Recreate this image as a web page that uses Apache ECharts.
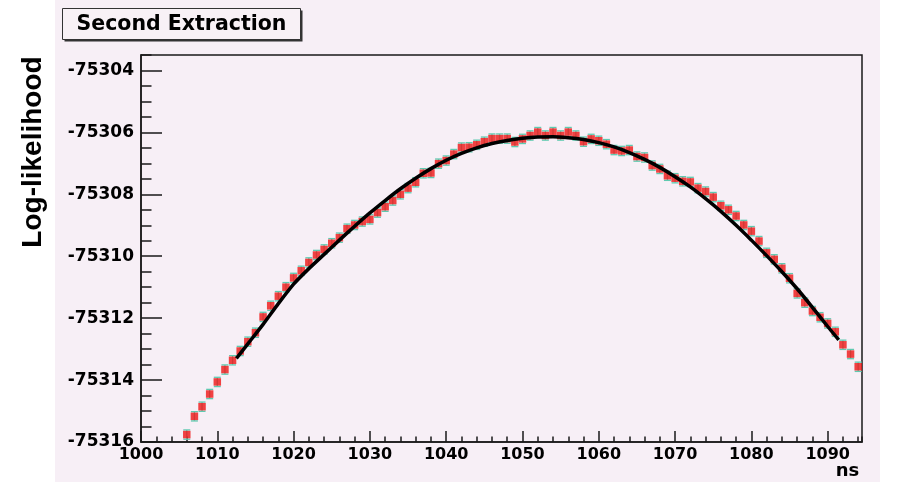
<!DOCTYPE html>
<html>
<head>
<meta charset="utf-8">
<script src="https://cdn.jsdelivr.net/npm/echarts@6/dist/echarts.min.js"></script>
<style>
html,body{margin:0;padding:0;background:#ffffff;}
#c{width:901px;height:485px;}
</style>
</head>
<body>
<div id="c"></div>
<script>
// ---- data ----
const titleText = 'Second Extraction';
const yAxisTitle = 'Log-likelihood';
const xAxisTitle = 'ns';

const xMin = 1000, xMax = 1094.5, xStep = 10, xMinorStep = 2;
const yMin = -75316, yMax = -75303.5, yStep = 2, yMinorStep = 0.5;

const pointX = [1006,1007,1008,1009,1010,1011,1012,1013,1014,1015,1016,1017,1018,1019,1020,1021,1022,1023,1024,1025,
  1026,1027,1028,1029,1030,1031,1032,1033,1034,1035,1036,1037,1038,1039,1040,1041,1042,1043,1044,1045,
  1046,1047,1048,1049,1050,1051,1052,1053,1054,1055,1056,1057,1058,1059,1060,1061,1062,1063,1064,1065,
  1066,1067,1068,1069,1070,1071,1072,1073,1074,1075,1076,1077,1078,1079,1080,1081,1082,1083,1084,1085,
  1086,1087,1088,1089,1090,1091,1092,1093,1094];
const pointY = [-75315.76,-75315.17,-75314.86,-75314.45,-75314.06,-75313.66,-75313.36,-75313.06,-75312.76,-75312.47,
  -75311.96,-75311.60,-75311.29,-75311.00,-75310.70,-75310.47,-75310.20,-75309.96,-75309.78,-75309.58,
  -75309.40,-75309.11,-75308.99,-75308.88,-75308.81,-75308.59,-75308.40,-75308.20,-75308.00,-75307.80,
  -75307.61,-75307.32,-75307.31,-75307.01,-75306.91,-75306.70,-75306.49,-75306.48,-75306.40,-75306.30,
  -75306.20,-75306.20,-75306.20,-75306.31,-75306.21,-75306.10,-75305.99,-75306.10,-75305.99,-75306.10,
  -75305.99,-75306.10,-75306.30,-75306.21,-75306.27,-75306.38,-75306.57,-75306.60,-75306.57,-75306.78,
  -75306.81,-75307.07,-75307.18,-75307.40,-75307.48,-75307.58,-75307.60,-75307.80,-75307.91,-75308.09,
  -75308.37,-75308.50,-75308.70,-75308.99,-75309.19,-75309.51,-75309.89,-75310.10,-75310.39,-75310.71,
  -75311.20,-75311.50,-75311.77,-75311.97,-75312.17,-75312.44,-75312.86,-75313.16,-75313.57];
const pointErr = 0.15;

const fitX = [1012.5,1014,1016,1018,1020,1022,1024,1026,1028,1030,1032,1034,1036,1038,1040,1042,1044,1046,1048,
  1050,1052,1054,1056,1058,1060,1062,1064,1066,1068,1070,1072,1074,1076,1078,1080,1082,1084,1086,1088,1090,1091.45];
const fitY = [-75313.30,-75312.83,-75312.20,-75311.53,-75310.90,-75310.40,-75309.94,-75309.48,-75309.03,-75308.60,
  -75308.20,-75307.82,-75307.48,-75307.17,-75306.90,-75306.68,-75306.50,-75306.36,-75306.26,
  -75306.19,-75306.15,-75306.14,-75306.17,-75306.23,-75306.33,-75306.47,-75306.65,-75306.87,-75307.13,
  -75307.43,-75307.76,-75308.14,-75308.55,-75309.00,-75309.48,-75309.98,-75310.50,-75311.05,-75311.65,
  -75312.27,-75312.70];

// ---- chart ----
const pts = pointX.map((x, i) => [x, pointY[i]]);
const fit = fitX.map((x, i) => [x, fitY[i]]);
const FONT = 'DejaVu Sans';
const AX = '#1a1a1a';

const chart = echarts.init(document.getElementById('c'), null, {renderer: 'canvas'});
chart.setOption({
  animation: false,
  backgroundColor: '#ffffff',
  grid: {left: 141, right: 39, top: 55, bottom: 43, show: true,
    borderColor: AX, borderWidth: 1.5, backgroundColor: 'transparent'},
  graphic: {elements: [
    {type: 'rect', z: -100, silent: true, shape: {x: 55, y: 0, width: 825, height: 482},
      style: {fill: '#f7eff6'}},
    {type: 'rect', z: 100, silent: true, shape: {x: 64.5, y: 10.5, width: 238, height: 31},
      style: {fill: '#333333'}},
    {type: 'rect', z: 101, silent: true, shape: {x: 62.5, y: 8.5, width: 238, height: 31},
      style: {fill: '#f8f1f6', stroke: '#333333', lineWidth: 1}},
    {type: 'text', z: 102, silent: true, x: 181.5, y: 24.5,
      style: {text: titleText, align: 'center', verticalAlign: 'middle',
        font: 'bold 20.5px "DejaVu Sans"', fill: '#000'}},
    {type: 'text', z: 102, silent: true, x: 33, y: 152, rotation: Math.PI / 2,
      style: {text: yAxisTitle, align: 'center', verticalAlign: 'middle',
        font: 'bold 28px "Liberation Sans"', fill: '#000'}},
    {type: 'text', z: 102, silent: true, x: 847.5, y: 471,
      style: {text: xAxisTitle, align: 'center', verticalAlign: 'middle',
        font: 'bold 18px "DejaVu Sans"', fill: '#000'}}
  ]},
  xAxis: [
    {type: 'value', gridIndex: 0, position: 'bottom', min: xMin, max: xMax, interval: xStep,
      axisLine: {show: true, onZero: false, lineStyle: {color: AX, width: 1.5}},
      axisTick: {show: true, inside: true, length: 11, lineStyle: {color: AX, width: 1.5}},
      splitLine: {show: false},
      axisLabel: {show: true, margin: 5, color: '#000', fontFamily: FONT, fontWeight: 'bold', fontSize: 16,
        showMaxLabel: false,
        formatter: v => (Math.abs(v % xStep) < 1e-6 ? String(v) : '')}},
    {type: 'value', gridIndex: 0, position: 'bottom', min: xMin, max: xMax, interval: xMinorStep,
      axisLine: {show: false, onZero: false},
      axisTick: {show: true, inside: true, length: 5.5, lineStyle: {color: AX, width: 1.5}},
      splitLine: {show: false}, axisLabel: {show: false}}
  ],
  yAxis: [
    {type: 'value', gridIndex: 0, position: 'left', min: yMin, max: yMax, interval: yStep,
      axisLine: {show: true, onZero: false, lineStyle: {color: AX, width: 1.5}},
      axisTick: {show: true, inside: true, length: 21, lineStyle: {color: AX, width: 1.5}},
      splitLine: {show: false},
      axisLabel: {show: true, margin: 7, color: '#000', fontFamily: FONT, fontWeight: 'bold', fontSize: 17,
        showMaxLabel: false,
        formatter: v => (Math.abs((v - yMin) % yStep) < 1e-6 ? String(v) : '')}},
    {type: 'value', gridIndex: 0, position: 'left', min: yMin, max: yMax, interval: yMinorStep,
      axisLine: {show: false, onZero: false},
      axisTick: {show: true, inside: true, length: 10.5, lineStyle: {color: AX, width: 1.5}},
      splitLine: {show: false}, axisLabel: {show: false}}
  ],
  series: [
    {type: 'custom', xAxisIndex: 0, yAxisIndex: 0, z: 3, data: pts, silent: true,
      renderItem: function (params, api) {
        const x = api.value(0), y = api.value(1);
        const hi = api.coord([x, y + pointErr]);
        const lo = api.coord([x, y - pointErr]);
        const cw = 3.5;
        const st = {stroke: '#5fcab0', lineWidth: 1.3};
        return {type: 'group', children: [
          {type: 'line', shape: {x1: hi[0], y1: hi[1], x2: lo[0], y2: lo[1]}, style: st},
          {type: 'line', shape: {x1: hi[0] - cw, y1: hi[1], x2: hi[0] + cw, y2: hi[1]}, style: st},
          {type: 'line', shape: {x1: lo[0] - cw, y1: lo[1], x2: lo[0] + cw, y2: lo[1]}, style: st}
        ]};
      }},
    {type: 'scatter', xAxisIndex: 0, yAxisIndex: 0, z: 4, data: pts, symbol: 'rect', symbolSize: 7.5,
      itemStyle: {color: '#ee1515'}, silent: true},
    {type: 'line', xAxisIndex: 0, yAxisIndex: 0, z: 5, data: fit, smooth: 0.2, showSymbol: false,
      symbol: 'none', lineStyle: {color: '#000000', width: 3.5}, silent: true}
  ]
});
</script>
</body>
</html>
